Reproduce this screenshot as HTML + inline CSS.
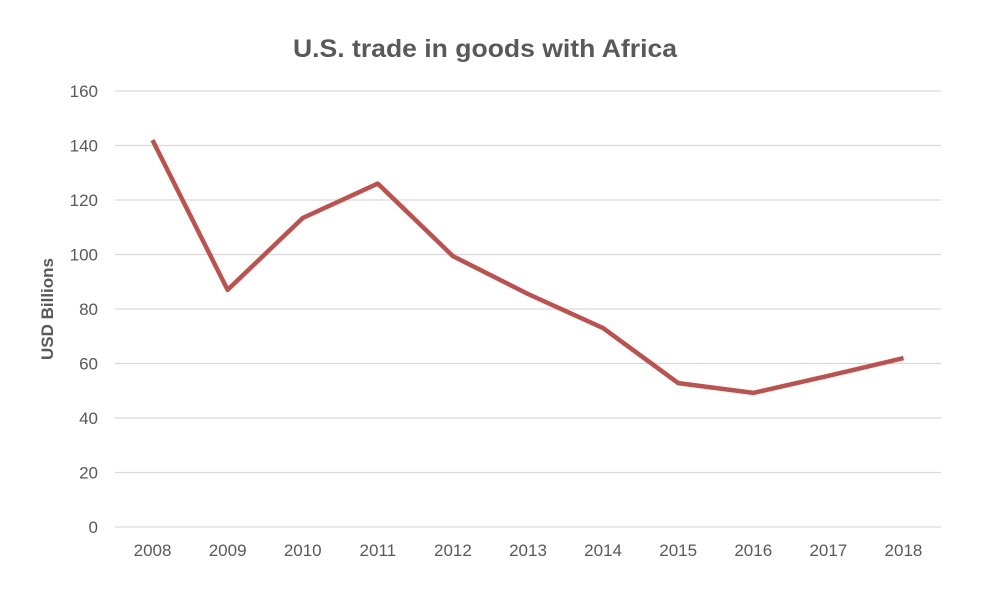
<!DOCTYPE html>
<html><head><meta charset="utf-8"><style>
body{margin:0;background:#fff;}
svg{display:block;font-family:"Liberation Sans",sans-serif;}
</style></head><body>
<svg id="chart" width="987" height="590">
<rect width="987" height="590" fill="#fff"/>
<text x="485" y="57" text-anchor="middle" font-size="25" font-weight="bold" fill="#595959" textLength="384" lengthAdjust="spacingAndGlyphs">U.S. trade in goods with Africa</text>
<text transform="translate(53,309) rotate(-90)" text-anchor="middle" font-size="17" font-weight="bold" fill="#595959">USD Billions</text>
<g id="grid"></g><g id="ylabels"></g><g id="xlabels"></g><g id="series"></g>
</svg>
<script>
const years=["2008","2009","2010","2011","2012","2013","2014","2015","2016","2017","2018"];
const values=[142,87,113.4,126,99.4,85.5,73,52.8,49.2,55.5,62];
const yTicks=[0,20,40,60,80,100,120,140,160];
const NS="http://www.w3.org/2000/svg";
const x0=115,x1=941,yBase=527,yTop=91,yMax=160;
const step=(x1-x0)/years.length;
function xs(i){return x0+step*(i+0.5);}
function ys(v){return yBase-(yBase-yTop)*v/yMax;}
function mk(t,a,p){const e=document.createElementNS(NS,t);for(const k in a)e.setAttribute(k,a[k]);document.getElementById(p).appendChild(e);return e;}
yTicks.forEach(v=>{
 const l=mk('line',{x1:x0,x2:x1,y1:ys(v),y2:ys(v),stroke:'#d9d9d9','stroke-width':1.3},'grid');
 
 
 const t=mk('text',{x:98,y:ys(v)+6,'text-anchor':'end','font-size':17,fill:'#595959'},'ylabels');
 t.textContent=v;
 
 
});
years.forEach((y,i)=>{
 const t=mk('text',{x:xs(i),y:556,'text-anchor':'middle','font-size':17,fill:'#595959'},'xlabels');
 t.textContent=y;
 
 
});
const pts=values.map((v,i)=>xs(i).toFixed(1)+','+ys(v).toFixed(1)).join(' ');
const pl=mk('polyline',{points:pts,fill:'none',stroke:'#c0504d','stroke-width':4.5,'stroke-linejoin':'round'},'series');


</script>
</body></html>
